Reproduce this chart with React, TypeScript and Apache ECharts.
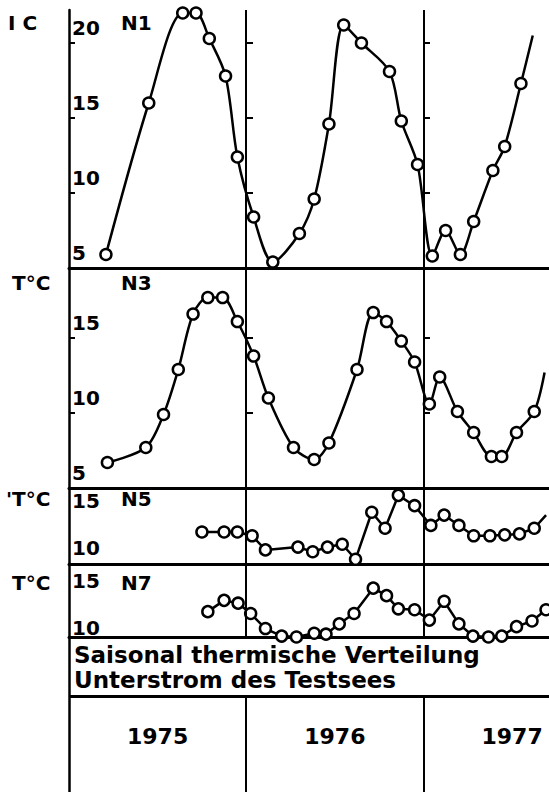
import React, { useEffect, useRef } from "react";
import * as echarts from "echarts";

// ---- data (months since 1 Jan 1975, temperature °C) ----
const panelNames = ["N1", "N3", "N5", "N7"];
const unitLabels = ["I C", "T°C", "'T°C", "T°C"];
const years = ["1975", "1976", "1977"];
const yearCenters = [6, 18, 30];
const yearDividers = [12, 24];
const titleLines = ["Saisonal thermische Verteilung", "Unterstrom des Testsees"];

const n1Months = [2.5, 5.4, 7.7, 8.6, 9.5, 10.6, 11.4, 12.5, 13.8, 15.6, 16.6, 17.6, 18.6, 19.8, 21.7, 22.5, 23.6, 24.6, 25.5, 26.5, 27.4, 28.7, 29.5, 30.6, 31.4];
const n1Temps = [5.9, 16.0, 22.0, 22.0, 20.3, 17.8, 12.4, 8.4, 5.4, 7.3, 9.6, 14.6, 21.2, 20.0, 18.1, 14.8, 11.9, 5.8, 7.5, 5.9, 8.1, 11.5, 13.1, 17.3, 20.5];

const n3Months = [2.6, 5.2, 6.4, 7.4, 8.4, 9.4, 10.4, 11.4, 12.5, 13.5, 15.2, 16.6, 17.6, 19.5, 20.6, 21.5, 22.5, 23.4, 24.4, 25.1, 26.3, 27.4, 28.6, 29.3, 30.3, 31.5, 32.2];
const n3Temps = [6.7, 7.7, 9.9, 12.9, 16.6, 17.7, 17.7, 16.1, 13.8, 11.0, 7.7, 6.9, 8.0, 12.9, 16.7, 16.1, 14.8, 13.4, 10.6, 12.4, 10.1, 8.7, 7.1, 7.1, 8.7, 10.1, 12.7];

const n5Months = [9.0, 10.5, 11.4, 12.4, 13.3, 15.5, 16.5, 17.5, 18.5, 19.4, 20.5, 21.4, 22.3, 23.4, 24.5, 25.4, 26.4, 27.4, 28.5, 29.5, 30.5, 31.5, 32.3];
const n5Temps = [13.3, 13.3, 13.3, 12.9, 11.4, 11.7, 11.2, 11.7, 12.0, 10.4, 15.4, 13.7, 17.2, 16.1, 14.0, 15.1, 14.0, 12.9, 12.9, 13.0, 13.1, 13.7, 15.1];

const n7Months = [9.4, 10.5, 11.45, 12.3, 13.3, 14.4, 15.4, 16.6, 17.4, 18.3, 19.3, 20.6, 21.5, 22.3, 23.4, 24.4, 25.4, 26.4, 27.35, 28.4, 29.3, 30.3, 31.35, 32.3];
const n7Temps = [12.5, 13.7, 13.4, 12.3, 10.7, 9.9, 9.8, 10.2, 10.1, 11.2, 12.3, 15.0, 14.2, 12.8, 12.7, 11.6, 13.6, 11.2, 9.9, 9.8, 9.9, 10.9, 11.5, 12.7];

const yLabelValues = [[5, 10, 15, 20], [5, 10, 15], [10, 15], [10, 15]];
const yTickValues = [[10, 15, 20], [10, 15], [], []];
const openEnded = [true, true, true, false];

const FONT = "DejaVu Sans";
const X_MAX = 32.5;

// layout (pixels)
const panels = [
  { top: 10, height: 258, min: 5, max: 22.2, lh: 30, smooth: 0.3, nameY: 25, unitX: 8 },
  { top: 268, height: 220, min: 5, max: 19.67, lh: 30, smooth: 0.3, nameY: 285, unitX: 12 },
  { top: 488, height: 76, min: 9.9, max: 17.98, lh: 30, smooth: 0, nameY: 501, unitX: 6 },
  { top: 564, height: 73, min: 9.8, max: 17.57, lh: 14, smooth: 0, nameY: 585, unitX: 12 },
];

const monthsList = [n1Months, n3Months, n5Months, n7Months];
const tempsList = [n1Temps, n3Temps, n5Temps, n7Temps];

export default function App() {
  const ref = useRef<HTMLDivElement>(null);
  useEffect(() => {
    document.body.style.margin = "0";
    const chart = echarts.init(ref.current!, null, { renderer: "svg" });

    const grid: any[] = [];
    const xAxis: any[] = [];
    const yAxis: any[] = [];
    const series: any[] = [];
    const graphic: any[] = [];

    panels.forEach((p, i) => {
      grid.push({ left: 69, right: 0, top: p.top, height: p.height });
      xAxis.push({
        type: "value", gridIndex: i, min: 0, max: X_MAX,
        axisLine: { show: true, lineStyle: { color: "#000", width: 3 } },
        axisTick: { show: false }, axisLabel: { show: false }, splitLine: { show: false },
      });
      const mainIdx = yAxis.length;
      yAxis.push({
        type: "value", gridIndex: i, min: p.min, max: p.max, position: "left",
        axisLine: { show: true, lineStyle: { color: "#000", width: 2.5 } },
        axisTick: { show: yTickValues[i].length > 0, inside: true, length: 6, customValues: yTickValues[i], lineStyle: { color: "#000", width: 2 } },
        axisLabel: {
          show: true, inside: true, margin: 3, customValues: yLabelValues[i],
          verticalAlign: "bottom", lineHeight: p.lh,
          color: "#000", fontFamily: FONT, fontSize: 20, fontWeight: "bold",
        },
        splitLine: { show: false },
      });
      if (yTickValues[i].length > 0) {
        [-178, -355].forEach((off) => {
          yAxis.push({
            type: "value", gridIndex: i, min: p.min, max: p.max, position: "left", offset: off,
            axisLine: { show: false },
            axisTick: { show: true, inside: true, length: 6, customValues: yTickValues[i], lineStyle: { color: "#000", width: 2 } },
            axisLabel: { show: false }, splitLine: { show: false },
          });
        });
      }
      const months = monthsList[i];
      const temps = tempsList[i];
      const data = months.map((m, k) => {
        if (openEnded[i] && k === months.length - 1) return { value: [m, temps[k]], symbol: "none" };
        return [m, temps[k]];
      });
      series.push({
        type: "line", xAxisIndex: i, yAxisIndex: mainIdx, data,
        smooth: p.smooth, symbol: "circle", symbolSize: 11,
        itemStyle: { color: "#fff", borderColor: "#000", borderWidth: 2.5 },
        lineStyle: { color: "#000", width: 2.5 },
        markLine: {
          silent: true, symbol: "none", label: { show: false },
          lineStyle: { color: "#000", width: 2, type: "solid" },
          data: yearDividers.map((d) => ({ xAxis: d })),
        },
      });
      graphic.push({
        type: "text", left: 121, top: p.nameY - 12,
        style: { text: panelNames[i], font: `bold 20px '${FONT}'`, fill: "#000" },
      });
      graphic.push({
        type: "text", left: p.unitX, top: p.nameY - 12,
        style: { text: unitLabels[i], font: `bold 20px '${FONT}'`, fill: "#000" },
      });
    });

    // bottom area: title box + years
    const bi = panels.length;
    grid.push({ left: 69, right: 0, top: 637, height: 155 });
    xAxis.push({ type: "value", gridIndex: bi, min: 0, max: X_MAX, show: false });
    yAxis.push({
      type: "value", gridIndex: bi, min: 0, max: 155, position: "left",
      axisLine: { show: true, lineStyle: { color: "#000", width: 2.5 } },
      axisTick: { show: false }, axisLabel: { show: false }, splitLine: { show: false },
    });
    series.push({
      type: "scatter", xAxisIndex: bi, yAxisIndex: yAxis.length - 1, symbolSize: 0,
      itemStyle: { color: "#000", opacity: 1 },
      data: years.map((y, k) => ({ value: [yearCenters[k], 56], name: y })),
      label: {
        show: true, position: "inside", formatter: (d: any) => d.name,
        color: "#000", textBorderWidth: 0, textBorderColor: "transparent",
        fontFamily: FONT, fontSize: 22, fontWeight: "bold",
      },
      markLine: {
        silent: true, symbol: "none", label: { show: false },
        lineStyle: { color: "#000", width: 2, type: "solid" },
        data: [
          ...yearDividers.map((d) => [{ coord: [d, 0] }, { coord: [d, 96] }]),
          [{ coord: [0, 96], lineStyle: { width: 3 } }, { coord: [X_MAX, 96] }],
        ],
      },
    });
    titleLines.forEach((t, k) => {
      graphic.push({
        type: "text", left: 74, top: 643 + k * 25,
        style: { text: t, font: `bold 23px '${FONT}'`, fill: "#000" },
      });
    });

    chart.setOption({
      animation: false,
      backgroundColor: "#fff",
      grid, xAxis, yAxis, series, graphic,
    });
    return () => chart.dispose();
  }, []);
  return <div ref={ref} style={{ width: 549, height: 792 }} />;
}
